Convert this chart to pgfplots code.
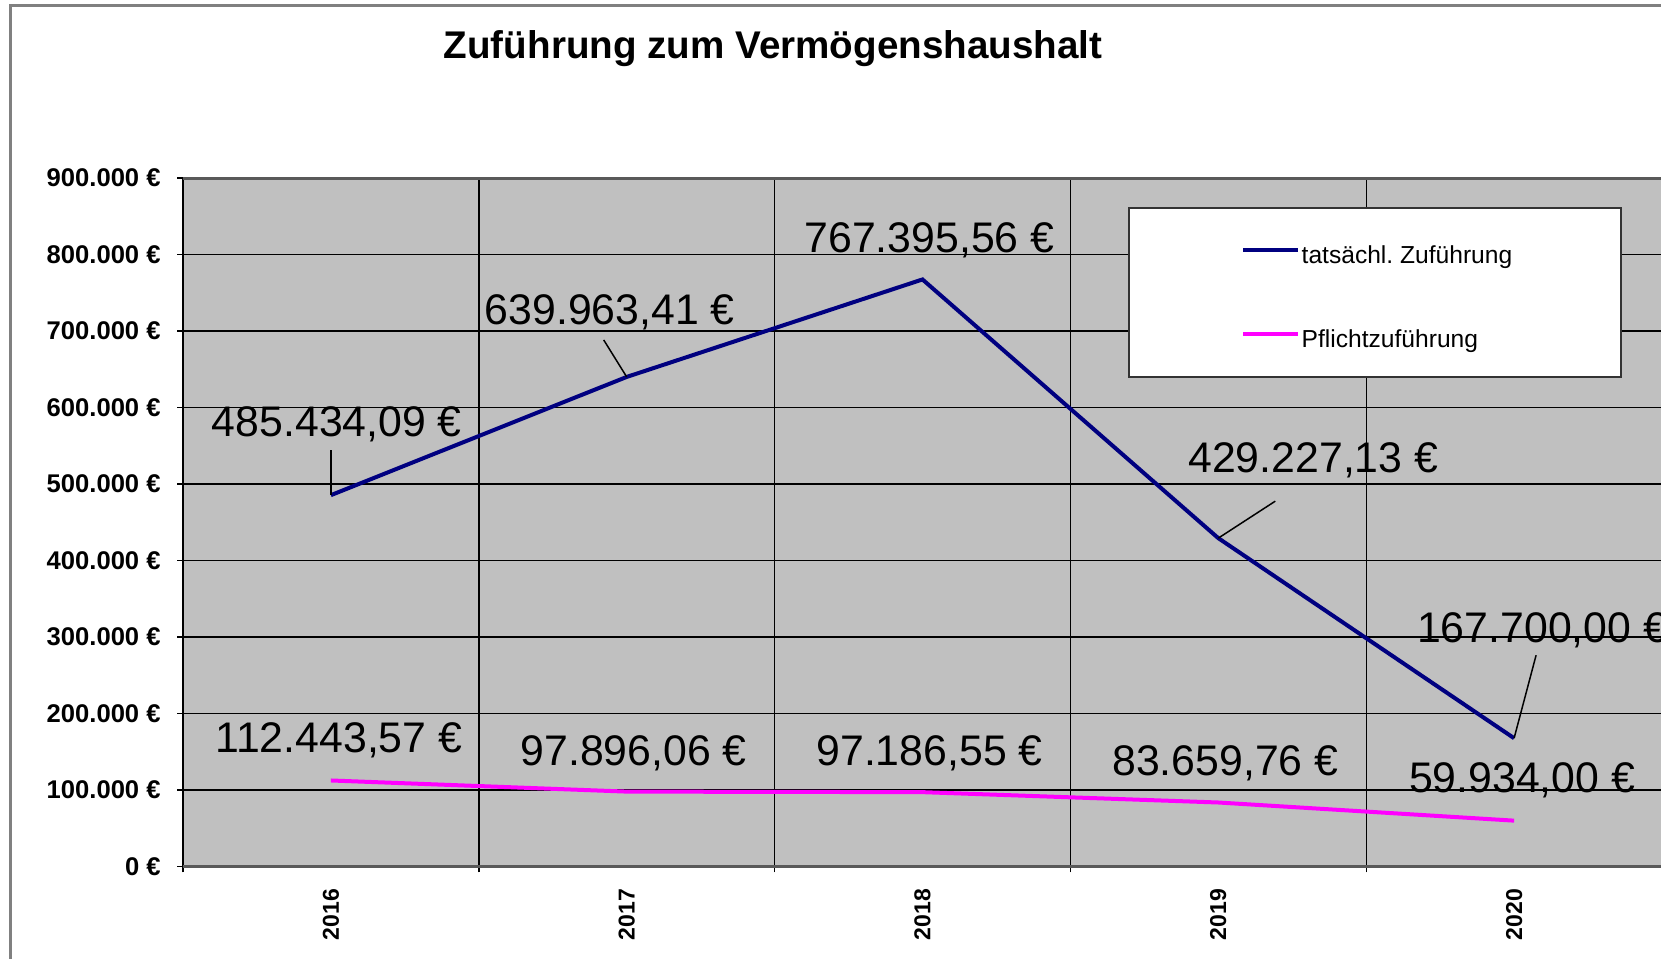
\documentclass[border=0pt]{standalone}
\usepackage{fontspec}
\setmainfont{Liberation Sans}
\usepackage{pgfplots}
\pgfplotsset{compat=1.18}
\definecolor{navyline}{RGB}{0,0,128}
\definecolor{magline}{RGB}{255,0,255}
\definecolor{plotbg}{RGB}{192,192,192}
\def\px{0.5pt}
\frenchspacing
\begin{document}
\begin{tikzpicture}
\useasboundingbox (0,0) rectangle (1661*\px,959*\px);
\fill[white] (0,0) rectangle (1661*\px,959*\px);
\draw[gray, line width=3*\px] (10*\px,-20*\px) -- (10*\px,953*\px) -- (1700*\px,953*\px);
\node[font=\bfseries\fontsize{19.3}{23}\selectfont] at (773*\px, 910*\px) {Zuführung zum Vermögenshaushalt};
\begin{axis}[
  at={(183*\px, 92.5*\px)}, anchor=south west,
  scale only axis, width=1479*\px, height=688.5*\px,
  xmin=-0.5, xmax=4.5, ymin=0, ymax=900000,
  clip=false,
  axis background/.style={fill=plotbg},
  xtick={0,1,2,3,4}, xticklabels={2016,2017,2018,2019,2020},
  minor xtick={-0.5,0.5,1.5,2.5,3.5,4.5},
  ytick={0,100000,200000,300000,400000,500000,600000,700000,800000,900000},
  yticklabels={0 €,100.000 €,200.000 €,300.000 €,400.000 €,500.000 €,600.000 €,700.000 €,800.000 €,900.000 €},
  scaled y ticks=false,
  tick pos=left, tick align=outside,
  major tick length=6*\px, minor tick length=6*\px,
  tick style={black, line width=0.7pt},
  every major x tick/.append style={draw=none},
  ymajorgrids=true, xminorgrids=true,
  major grid style={black, line width=0.7pt},
  minor grid style={black, line width=0.7pt},
  axis line style={black, line width=0.7pt},
  yticklabel style={font=\bfseries\fontsize{12.8}{14}\selectfont, anchor=east, inner sep=0pt, xshift=-16*\px},
  xticklabel style={font=\bfseries\fontsize{11.5}{13}\selectfont, rotate=90, anchor=east, inner sep=0pt, xshift=-16*\px},
  legend style={at={(0.6421,0.9518)}, anchor=north west, fill=none, draw=none,
    font=\fontsize{12.3}{14}\selectfont, inner xsep=54pt, inner ysep=17pt, row sep=31.4pt,
    nodes={inner sep=0pt}, column sep=0.8pt},
  legend cell align=left,
  legend image code/.code={\draw[#1] (0pt,0.3em) -- (27.5pt,0.3em);},
]
\addplot[navyline, line width=2pt] coordinates {(0,485434.09) (1,639963.41) (2,767395.56) (3,429227.13) (4,167700.00)};
\addlegendentry{tatsächl. Zuführung}
\addplot[magline, line width=2pt] coordinates {(0,112443.57) (1,97896.06) (2,97186.55) (3,83659.76) (4,59934.00)};
\addlegendentry{Pflichtzuführung}

\draw[gray!70!black, line width=1.5pt] (rel axis cs:0,1) -- (rel axis cs:1,1);
\draw[gray!70!black, line width=1.5pt] (rel axis cs:0,0) -- (rel axis cs:1,0);

\filldraw[fill=white, draw=black!80, line width=1pt] (axis description cs:0.6398,0.9570) rectangle (axis description cs:0.9721,0.7108);

\draw[black, line width=0.75pt] (axis cs:0,485434.09) -- ++(0pt,45*\px);
\draw[black, line width=0.75pt] (axis cs:1,639963.41) -- ++(-23*\px,37*\px);
\draw[black, line width=0.75pt] (axis cs:3,429227.13) -- ++(57*\px,37*\px);
\draw[black, line width=0.75pt] (axis cs:4,167700) -- ++(22*\px,83*\px);

\tikzset{dl/.style={font=\fontsize{21.4}{24}\selectfont, inner sep=0pt, anchor=base}}
\node[dl] at ([xshift=6*\px, yshift=58.5*\px]axis cs:0,485434.09) {485.434,09 €};
\node[dl] at ([xshift=-17*\px, yshift=52*\px]axis cs:1,639963.41) {639.963,41 €};
\node[dl] at ([xshift=7*\px, yshift=27*\px]axis cs:2,767395.56) {767.395,56 €};
\node[dl] at ([xshift=95*\px, yshift=66*\px]axis cs:3,429227.13) {429.227,13 €};
\node[dl] at ([xshift=28*\px, yshift=96*\px]axis cs:4,167700) {167.700,00 €};

\node[dl] at ([xshift=8*\px, yshift=27.5*\px]axis cs:0,112443.57) {112.443,57 €};
\node[dl] at ([xshift=7*\px, yshift=26.6*\px]axis cs:1,97896.06) {97.896,06 €};
\node[dl] at ([xshift=7*\px, yshift=27*\px]axis cs:2,97186.55) {97.186,55 €};
\node[dl] at ([xshift=7*\px, yshift=27*\px]axis cs:3,83659.76) {83.659,76 €};
\node[dl] at ([xshift=8*\px, yshift=27.7*\px]axis cs:4,59934.00) {59.934,00 €};
\end{axis}
\end{tikzpicture}
\end{document}
